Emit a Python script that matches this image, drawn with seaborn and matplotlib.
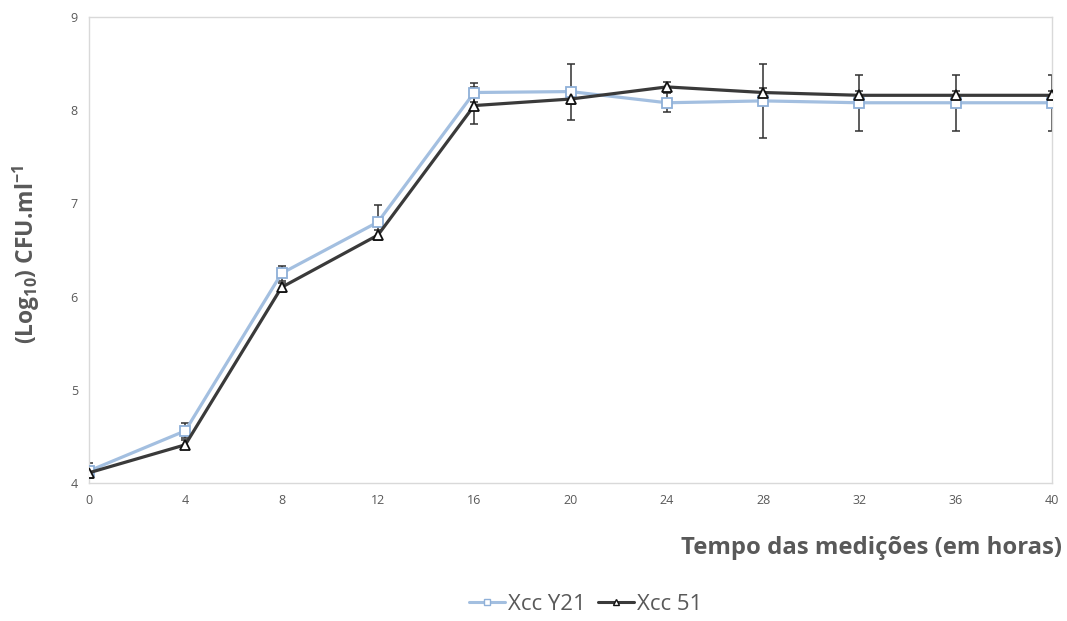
import matplotlib
matplotlib.use("Agg")
import matplotlib.pyplot as plt
import seaborn as sns
import pandas as pd
from matplotlib.lines import Line2D

hours = [0, 4, 8, 12, 16, 20, 24, 28, 32, 36, 40]
y21 = [4.13, 4.56, 6.25, 6.80, 8.19, 8.20, 8.08, 8.10, 8.08, 8.08, 8.08]
y21_err = [0.08, 0.08, 0.08, 0.18, 0.10, 0.30, 0.10, 0.40, 0.30, 0.30, 0.30]
x51 = [4.11, 4.41, 6.10, 6.66, 8.05, 8.12, 8.25, 8.19, 8.16, 8.16, 8.16]
x51_err = [0.05, 0.05, 0.05, 0.05, 0.20, 0.05, 0.05, 0.05, 0.05, 0.05, 0.05]
series_names = ["Xcc Y21", "Xcc 51"]
y_ticks = [4, 5, 6, 7, 8, 9]

sns.set_theme(style="white")
plt.rcParams['font.family'] = ['Open Sans', 'DejaVu Sans']
plt.rcParams['mathtext.default'] = 'regular'

df = pd.DataFrame({
    "hora": hours * 2,
    "valor": y21 + x51,
    "serie": [series_names[0]] * len(hours) + [series_names[1]] * len(hours),
})

c_y21 = "#a3bfe0"
c_x51 = "#3a3a3a"
txt = "#595959"

fig = plt.figure(figsize=(10.67, 6.21), dpi=100)
ax = fig.add_axes([0.0834, 0.2222, 0.9026, 0.7504])

# error bars
ax.errorbar(hours, y21, yerr=y21_err, fmt='none', ecolor="#303030",
            elinewidth=1.1, capsize=3, capthick=1.1, zorder=2)
ax.errorbar(hours, x51, yerr=x51_err, fmt='none', ecolor="#303030",
            elinewidth=1.1, capsize=3, capthick=1.1, zorder=2)

sns.lineplot(data=df, x="hora", y="valor", hue="serie", style="serie",
             palette={series_names[0]: c_y21, series_names[1]: c_x51},
             markers={series_names[0]: "s", series_names[1]: "^"},
             dashes=False, linewidth=2.3, markersize=6.5,
             markerfacecolor="white", markeredgewidth=1.3,
             legend=False, ax=ax, zorder=3)
for line in ax.lines:
    if line.get_color() == c_y21:
        line.set_markeredgecolor("#8fb0d8")
    elif line.get_color() == c_x51:
        line.set_markeredgecolor("#111111")

ax.set_xlim(0, 40)
ax.set_ylim(4, 9)
ax.set_xticks(hours)
ax.set_yticks(y_ticks)
ax.tick_params(axis='both', which='both', labelsize=9, colors="#d9d9d9",
               labelcolor=txt, length=4, width=0.8, direction='inout')
ax.tick_params(axis='x', pad=6)
ax.tick_params(axis='y', pad=6)
for s in ax.spines.values():
    s.set_color("#d9d9d9")
    s.set_linewidth(1.0)

ax.set_xlabel("")
ax.set_ylabel("")
fig.text(0.995, 0.117, "Tempo das medições (em horas)", ha='right', va='center',
         fontsize=17.2, fontweight='bold', color=txt)
fig.text(0.025, 0.59, r"(Log$_{10}$) CFU.ml$^{-1}$", ha='center', va='center',
         rotation=90, fontsize=16.5, fontweight='bold', color=txt)

handles = [
    Line2D([0], [0], color=c_y21, lw=2.2, marker='s', markersize=5,
           markerfacecolor='white', markeredgecolor="#8fb0d8"),
    Line2D([0], [0], color=c_x51, lw=2.2, marker='^', markersize=5,
           markerfacecolor='white', markeredgecolor="#111111"),
]
leg = fig.legend(handles, series_names, loc='center', bbox_to_anchor=(0.549, 0.027),
                 ncol=2, frameon=False, fontsize=16, handlelength=1.6,
                 handletextpad=0.15, columnspacing=0.55)
for t in leg.get_texts():
    t.set_color(txt)

fig.savefig("out.png", dpi=100)
